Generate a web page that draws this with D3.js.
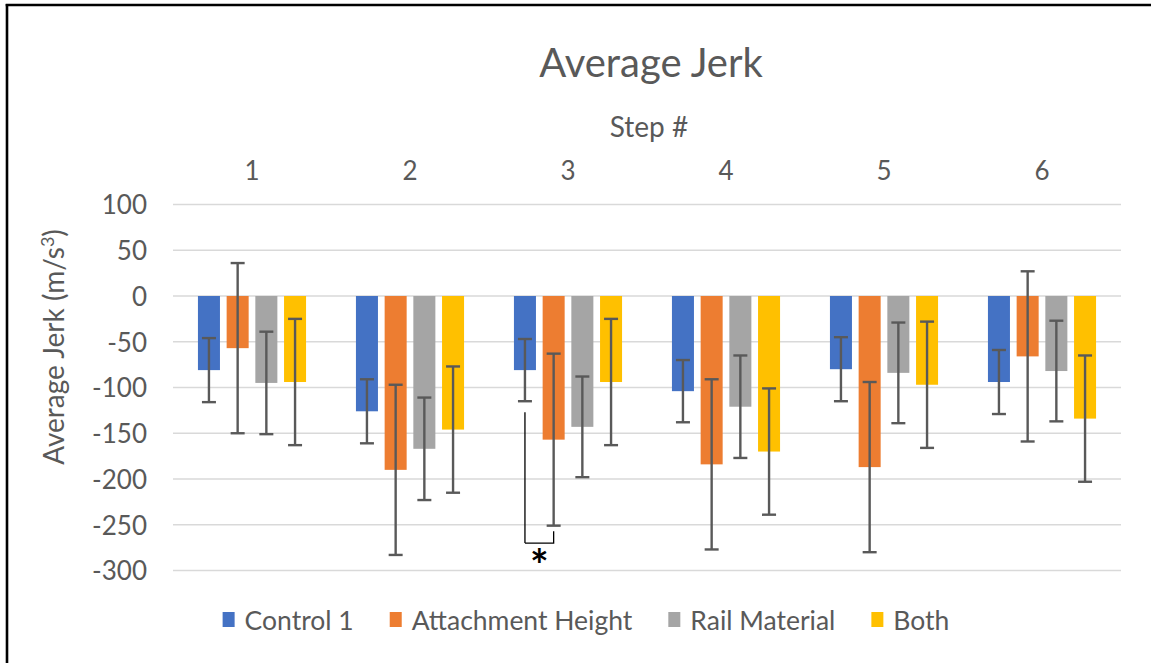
<!DOCTYPE html>
<html>
<head>
<meta charset="utf-8">
<script src="https://cdn.jsdelivr.net/npm/d3@7"></script>
<style>
  html, body { margin: 0; padding: 0; background: #fff; }
  svg { display: block; font-family: Lato, "Open Sans", sans-serif; }
</style>
</head>
<body>
<svg id="chart" width="1151" height="663"></svg>
<script>
const steps = ["1", "2", "3", "4", "5", "6"];
const seriesNames = ["Control 1", "Attachment Height", "Rail Material", "Both"];
const colors = ["#4472C4", "#ED7D31", "#A5A5A5", "#FFC000"];
const control1 = [-81, -126, -81, -104, -80, -94];
const attachmentHeight = [-57, -190, -157, -184, -187, -66];
const railMaterial = [-95, -167, -143, -121, -84, -82];
const both = [-94, -146, -94, -170, -97, -134];
const control1Err = [35, 35, 34, 34, 35, 35];
const attachmentHeightErr = [93, 93, 94, 93, 93, 93];
const railMaterialErr = [56, 56, 55, 56, 55, 55];
const bothErr = [69, 69, 69, 69, 69, 69];
const yTicks = [100, 50, 0, -50, -100, -150, -200, -250, -300];
const titleText = "Average Jerk";
const xTitleText = "Step #";
// significance bracket between Control 1 and Attachment Height at step 3
const sigStep = "3";
const sigLeftTop = -127, sigRightTop = -257, sigBottom = -270;

const values = [control1, attachmentHeight, railMaterial, both];
const errs = [control1Err, attachmentHeightErr, railMaterialErr, bothErr];
const data = [];
steps.forEach((s, i) => seriesNames.forEach((n, j) => {
  data.push({ step: s, series: n, value: values[j][i], err: errs[j][i], color: colors[j] });
}));

const svg = d3.select("#chart");
const plotLeft = 173, plotRight = 1121, plotTop = 204.5, plotBottom = 570.5;

const y = d3.scaleLinear().domain([-300, 100]).range([plotBottom, plotTop]);
const x0 = d3.scaleBand().domain(steps).range([plotLeft, plotRight]).padding(0);
const x1 = d3.scaleBand().domain(seriesNames).range([0, x0.bandwidth()])
  .paddingInner(0.233).paddingOuter(0.869);

// frame (left and top edges visible)
svg.append("line").attr("x1", 7).attr("x2", 7).attr("y1", 4).attr("y2", 663)
  .attr("stroke", "#000").attr("stroke-width", 2.6);
svg.append("line").attr("x1", 5.7).attr("x2", 1151).attr("y1", 5).attr("y2", 5)
  .attr("stroke", "#000").attr("stroke-width", 2.6);

// gridlines
svg.append("g").selectAll("line").data(yTicks).join("line")
  .attr("x1", plotLeft).attr("x2", plotRight)
  .attr("y1", d => y(d)).attr("y2", d => y(d))
  .attr("stroke", "#d9d9d9").attr("stroke-width", 1.6);

// y axis labels
const yAxis = d3.axisLeft(y).tickValues(yTicks).tickFormat(d => String(d)).tickSize(0).tickPadding(0);
const yg = svg.append("g").attr("transform", `translate(147,0)`).call(yAxis);
yg.select(".domain").remove();
yg.selectAll("text").attr("font-size", 26).attr("fill", "#595959")
  .attr("font-family", "Lato, sans-serif").attr("dy", "0.36em");

// top category labels
const xAxis = d3.axisTop(x0).tickSize(0).tickPadding(0);
const xg = svg.append("g").attr("transform", `translate(0,180)`).call(xAxis);
xg.select(".domain").remove();
xg.selectAll("text").attr("font-size", 26).attr("fill", "#595959")
  .attr("font-family", "Lato, sans-serif").attr("dy", 0);

// bars
svg.append("g").selectAll("rect").data(data).join("rect")
  .attr("x", d => x0(d.step) + x1(d.series))
  .attr("width", x1.bandwidth())
  .attr("y", d => y(Math.max(0, d.value)))
  .attr("height", d => Math.abs(y(d.value) - y(0)))
  .attr("fill", d => d.color);

// error bars
const eg = svg.append("g").attr("stroke", "#595959").attr("stroke-width", 2.4);
data.forEach(d => {
  const cx = x0(d.step) + x1(d.series) + x1.bandwidth() / 2;
  const top = y(d.value + d.err), bot = y(d.value - d.err);
  eg.append("line").attr("x1", cx).attr("x2", cx).attr("y1", top).attr("y2", bot);
  eg.append("line").attr("x1", cx - 7).attr("x2", cx + 7).attr("y1", top).attr("y2", top);
  eg.append("line").attr("x1", cx - 7).attr("x2", cx + 7).attr("y1", bot).attr("y2", bot);
});

// significance bracket
const bx1 = x0(sigStep) + x1(seriesNames[0]) + x1.bandwidth() / 2;
const bx2 = x0(sigStep) + x1(seriesNames[1]) + x1.bandwidth() / 2;
svg.append("path")
  .attr("d", `M${bx1},${y(sigBottom)} V${y(sigLeftTop)} M${bx1},${y(sigBottom)} H${bx2} V${y(sigRightTop)}`)
  .attr("fill", "none").attr("stroke", "#000").attr("stroke-width", 1.3);
svg.append("text").attr("x", (bx1 + bx2) / 2).attr("y", y(sigBottom) + 38)
  .attr("text-anchor", "middle").attr("font-size", 44).attr("font-weight", "bold")
  .attr("fill", "#000").text("*");

// title
svg.append("text").attr("x", 651).attr("y", 77).attr("text-anchor", "middle")
  .attr("font-size", 40).attr("fill", "#595959").text(titleText);
svg.append("text").attr("x", 649).attr("y", 137).attr("text-anchor", "middle")
  .attr("font-size", 28).attr("fill", "#595959").text(xTitleText);

// y axis title
const yt = svg.append("text").attr("transform", "translate(64,347) rotate(-90)")
  .attr("text-anchor", "middle").attr("font-size", 28).attr("fill", "#595959");
yt.append("tspan").text("Average Jerk (m/s");
yt.append("tspan").attr("font-size", 18).attr("dy", -10).text("3");
yt.append("tspan").attr("dy", 10).text(")");

// legend
const lg = svg.append("g");
let lx = 0;
seriesNames.forEach((n, j) => {
  const g = lg.append("g").attr("transform", `translate(${lx},0)`);
  g.append("rect").attr("x", 0).attr("y", 612).attr("width", 12).attr("height", 15).attr("fill", colors[j]);
  const t = g.append("text").attr("x", 22).attr("y", 620).attr("dy", "0.36em")
    .attr("font-size", 26.5).attr("fill", "#595959").text(n);
  const w = t.node().getComputedTextLength();
  lx += 22 + w + 36;
});
const legendW = lx - 36;
lg.attr("transform", `translate(${586 - legendW / 2},0)`);
</script>
</body>
</html>
